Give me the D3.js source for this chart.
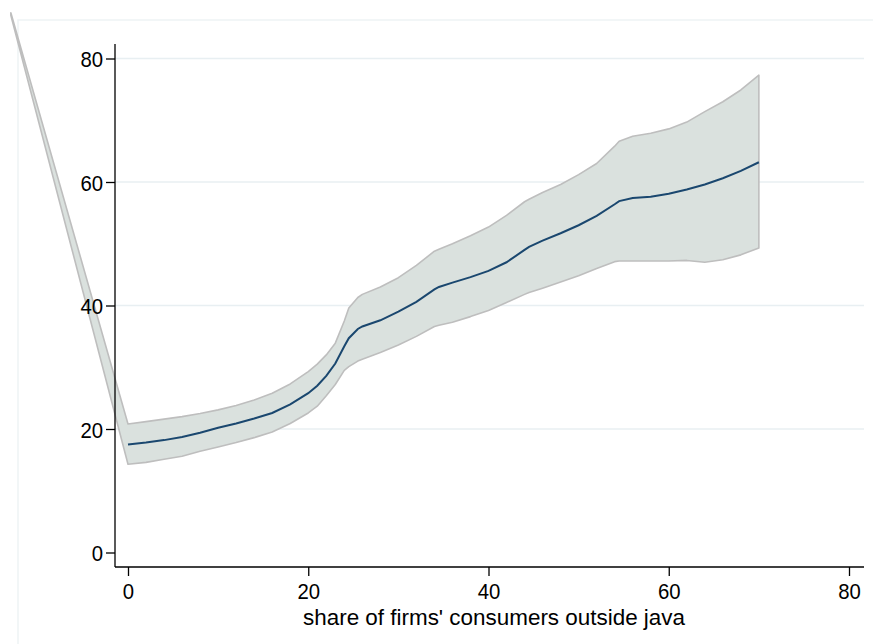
<!DOCTYPE html>
<html>
<head>
<meta charset="utf-8">
<script src="https://cdn.jsdelivr.net/npm/d3@7"></script>
<style>
  html, body { margin: 0; padding: 0; background: #fff; }
  svg { display: block; }
  text { font-family: "Liberation Sans", Arial, Helvetica, sans-serif; fill: #000; }
</style>
</head>
<body>
<svg id="chart" width="873" height="644"></svg>
<script>
// Fitted share of consumers outside Java: point estimate and confidence band
const xFit = [0, 2, 4, 6, 8, 10, 12, 14, 16, 18, 20, 21, 22, 23, 24, 24.5, 25.5, 26, 28, 30,
  32, 34, 34.5, 36, 38, 40, 42, 44, 44.5, 46, 48, 50, 52, 54, 54.5, 56, 58, 60, 62, 64, 66, 68, 70];
const fitValues = [17.5, 17.8, 18.2, 18.7, 19.4, 20.2, 20.9, 21.7, 22.6, 24.0, 25.8, 27.0, 28.6, 30.6,
  33.4, 34.7, 36.2, 36.6, 37.6, 39.0, 40.6, 42.6, 43.0, 43.7, 44.6, 45.6, 47.0, 49.0, 49.5, 50.5,
  51.7, 53.0, 54.5, 56.4, 56.9, 57.4, 57.6, 58.1, 58.8, 59.6, 60.6, 61.8, 63.2];

// Band arrays start with one point far to the left of the axis
const xBand = [-13].concat(xFit);
const upperValues = [87.4, 20.8, 21.2, 21.6, 22.0, 22.5, 23.1, 23.8, 24.7, 25.8, 27.3, 29.3, 30.5, 32.0,
  33.9, 37.5, 39.6, 41.3, 41.8, 43.0, 44.5, 46.5, 48.8, 49.1, 50.0, 51.3, 52.7, 54.6, 56.8, 57.2,
  58.3, 59.6, 61.2, 63.0, 65.8, 66.6, 67.4, 67.9, 68.6, 69.7, 71.4, 73.0, 74.9, 77.3];
const lowerValues = [87.0, 14.3, 14.6, 15.1, 15.6, 16.4, 17.1, 17.8, 18.6, 19.5, 20.9, 22.6, 23.7, 25.4,
  27.2, 29.5, 30.1, 31.0, 31.3, 32.4, 33.6, 35.0, 36.6, 36.8, 37.3, 38.2, 39.2, 40.5, 41.8, 42.1,
  42.8, 43.8, 44.8, 46.0, 47.1, 47.2, 47.2, 47.2, 47.2, 47.3, 47.0, 47.4, 48.2, 49.3];

const xTicks = [0, 20, 40, 60, 80];
const yTicks = [0, 20, 40, 60, 80];
const xTitle = "share of firms' consumers outside java";

const svg = d3.select("#chart");

// Plot region edges
const plotLeft = 115, plotRight = 864, plotTop = 44, plotBottom = 567;

const x = d3.scaleLinear().domain([0, 80]).range([128, 849]);
const y = d3.scaleLinear().domain([0, 80]).range([552.5, 58.5]);

// Faint outer graph-region frame
svg.append("path")
  .attr("d", `M18,644 L18,20 L873,20`)
  .attr("fill", "none")
  .attr("stroke", "#eef3f5")
  .attr("stroke-width", 1.5);

// Horizontal gridlines
svg.append("g")
  .selectAll("line")
  .data(yTicks.filter(d => d !== 0))
  .join("line")
  .attr("x1", plotLeft)
  .attr("x2", plotRight)
  .attr("y1", d => y(d))
  .attr("y2", d => y(d))
  .attr("stroke", "#e8eff2")
  .attr("stroke-width", 1.5);

// Confidence band
const bandData = xBand.map((v, i) => ({ x: v, lo: lowerValues[i], hi: upperValues[i] }));
const area = d3.area()
  .x(d => x(d.x))
  .y0(d => y(d.lo))
  .y1(d => y(d.hi));
svg.append("path")
  .datum(bandData)
  .attr("d", area)
  .attr("fill", "#dae1de")
  .attr("stroke", "#bebebe")
  .attr("stroke-width", 1.6)
  .attr("stroke-linejoin", "round");

// Fitted line
const fitData = xFit.map((v, i) => ({ x: v, y: fitValues[i] }));
svg.append("path")
  .datum(fitData)
  .attr("d", d3.line().x(d => x(d.x)).y(d => y(d.y)))
  .attr("fill", "none")
  .attr("stroke", "#1a476f")
  .attr("stroke-width", 2);

// Tick labels use a slightly condensed tall glyph shape
function styleTickText(sel) {
  sel.attr("font-size", 22.5)
    .attr("font-family", null)
    .attr("lengthAdjust", "spacingAndGlyphs")
    .attr("textLength", d => String(d).length * 11.3);
}

// Y axis
const yAxis = d3.axisLeft(y).tickValues(yTicks).tickSize(9).tickPadding(3).tickSizeOuter(0);
const gy = svg.append("g").attr("transform", `translate(${plotLeft},0)`).call(yAxis);
gy.select(".domain").attr("d", `M0,${plotTop}V${plotBottom}`).attr("stroke", "#000").attr("stroke-width", 1.3);
gy.selectAll(".tick line").attr("stroke", "#000").attr("stroke-width", 1.3);
gy.selectAll(".tick text").call(styleTickText).attr("dy", "0.36em");

// X axis
const xAxis = d3.axisBottom(x).tickValues(xTicks).tickSize(9).tickPadding(7).tickSizeOuter(0);
const gx = svg.append("g").attr("transform", `translate(0,${plotBottom})`).call(xAxis);
gx.select(".domain").attr("d", `M${plotLeft},0H${plotRight}`).attr("stroke", "#000").attr("stroke-width", 1.3);
gx.selectAll(".tick line").attr("stroke", "#000").attr("stroke-width", 1.3);
gx.selectAll(".tick text").call(styleTickText);

// X axis title
svg.append("text")
  .attr("x", 494)
  .attr("y", 625)
  .attr("text-anchor", "middle")
  .attr("font-size", 22.5)
  .attr("lengthAdjust", "spacingAndGlyphs")
  .attr("textLength", 382)
  .text(xTitle);
</script>
</body>
</html>
